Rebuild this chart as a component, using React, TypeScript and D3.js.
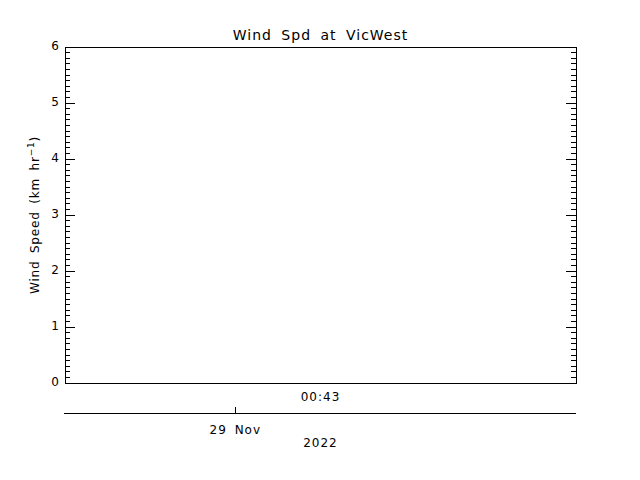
import React, { useEffect, useRef } from 'react';
import * as d3 from 'd3';

// Station data for the window (no readings were logged, so the plot is empty)
const TIMES: Date[] = [];
const WIND_SPEED: number[] = [];

const TITLE = "Wind Spd at VicWest";
const Y_TICKS = [0, 1, 2, 3, 4, 5, 6];
const TIME_START = new Date(2022, 10, 28, 22, 34);
const TIME_END = new Date(2022, 10, 29, 2, 52);
const TIME_LABEL = new Date(2022, 10, 29, 0, 43);
const DAY_TICKS = [new Date(2022, 10, 29, 0, 0)];
const YEAR_LABEL = "2022";

const App: React.FC = () => {
  const svgRef = useRef<SVGSVGElement>(null);

  useEffect(() => {
    if (!svgRef.current) return;
    document.body.style.margin = "0";

    const svg = d3.select(svgRef.current);
    svg.selectAll("*").remove();

    const width = 640;
    const height = 480;
    const margin = { top: 47, right: 64, bottom: 97, left: 65 };
    const font = "'DejaVu Sans', sans-serif";

    svg.attr("width", width).attr("height", height)
      .style("display", "block")
      .style("background", "#fff");

    const x = d3.scaleTime()
      .domain([TIME_START, TIME_END])
      .range([margin.left, width - margin.right]);

    const y = d3.scaleLinear()
      .domain([0, 6])
      .range([height - margin.bottom, margin.top]);

    const g = svg.append("g")
      .attr("shape-rendering", "crispEdges")
      .attr("stroke", "#000")
      .attr("fill", "none");

    // plot frame
    g.append("rect")
      .attr("x", x.range()[0])
      .attr("y", y.range()[1])
      .attr("width", x.range()[1] - x.range()[0])
      .attr("height", y.range()[0] - y.range()[1]);

    // y ticks on both sides, pointing into the plot
    const minor = d3.range(0, 60).map(i => i / 10).filter(v => !Y_TICKS.includes(Math.round(v * 10) / 10));
    const yTicks = [
      ...Y_TICKS.map(v => ({ v, len: 10 })),
      ...minor.map(v => ({ v, len: 5 })),
    ];
    const x0 = x.range()[0];
    const x1 = x.range()[1];
    g.selectAll("line.yl").data(yTicks).enter().append("line")
      .attr("x1", x0).attr("x2", d => x0 + d.len)
      .attr("y1", d => y(d.v)).attr("y2", d => y(d.v));
    g.selectAll("line.yr").data(yTicks).enter().append("line")
      .attr("x1", x1).attr("x2", d => x1 - d.len)
      .attr("y1", d => y(d.v)).attr("y2", d => y(d.v));

    svg.append("g").selectAll("text").data(Y_TICKS).enter().append("text")
      .attr("x", x0 - 6)
      .attr("y", d => y(d) + 3)
      .attr("text-anchor", "end")
      .attr("font-family", font)
      .attr("font-size", 12)
      .text(d => d);

    // wind speed trace
    const line = d3.line<number>()
      .x((_, i) => x(TIMES[i]))
      .y(d => y(d));
    svg.append("path")
      .datum(WIND_SPEED)
      .attr("fill", "none")
      .attr("stroke", "#000")
      .attr("d", line);

    // time-of-day label
    svg.append("text")
      .attr("x", x(TIME_LABEL))
      .attr("y", 401)
      .attr("text-anchor", "middle")
      .attr("font-family", font)
      .attr("font-size", 12)
      .attr("letter-spacing", 1)
      .text(d3.timeFormat("%H:%M")(TIME_LABEL));

    // date axis
    const axisY = 413;
    g.append("line")
      .attr("x1", x0 - 1).attr("x2", x1)
      .attr("y1", axisY).attr("y2", axisY);
    g.selectAll("line.day").data(DAY_TICKS).enter().append("line")
      .attr("x1", d => x(d)).attr("x2", d => x(d))
      .attr("y1", axisY).attr("y2", axisY - 6);
    svg.append("g").selectAll("text").data(DAY_TICKS).enter().append("text")
      .attr("x", d => x(d))
      .attr("y", 434)
      .attr("text-anchor", "middle")
      .attr("font-family", font)
      .attr("font-size", 12)
      .attr("letter-spacing", 1)
      .attr("word-spacing", 3)
      .text(d => d3.timeFormat("%d %b")(d));

    svg.append("text")
      .attr("x", (x0 + x1) / 2)
      .attr("y", 447)
      .attr("text-anchor", "middle")
      .attr("font-family", font)
      .attr("font-size", 12)
      .attr("letter-spacing", 1)
      .text(YEAR_LABEL);

    // title
    svg.append("text")
      .attr("x", (x0 + x1) / 2)
      .attr("y", 40)
      .attr("text-anchor", "middle")
      .attr("font-family", font)
      .attr("font-size", 14)
      .attr("letter-spacing", 1)
      .attr("word-spacing", 4)
      .text(TITLE);

    // y label
    const yl = svg.append("text")
      .attr("transform", `translate(39,${(y.range()[0] + y.range()[1]) / 2}) rotate(-90)`)
      .attr("text-anchor", "middle")
      .attr("font-family", font)
      .attr("font-size", 12)
      .attr("letter-spacing", 0.8)
      .attr("word-spacing", 3);
    yl.append("tspan").text("Wind Speed (km hr");
    yl.append("tspan").attr("dy", -5).attr("font-size", 9).text("−1");
    yl.append("tspan").attr("dy", 5).text(")");
  }, []);

  return <svg ref={svgRef}></svg>;
};

export default App;
